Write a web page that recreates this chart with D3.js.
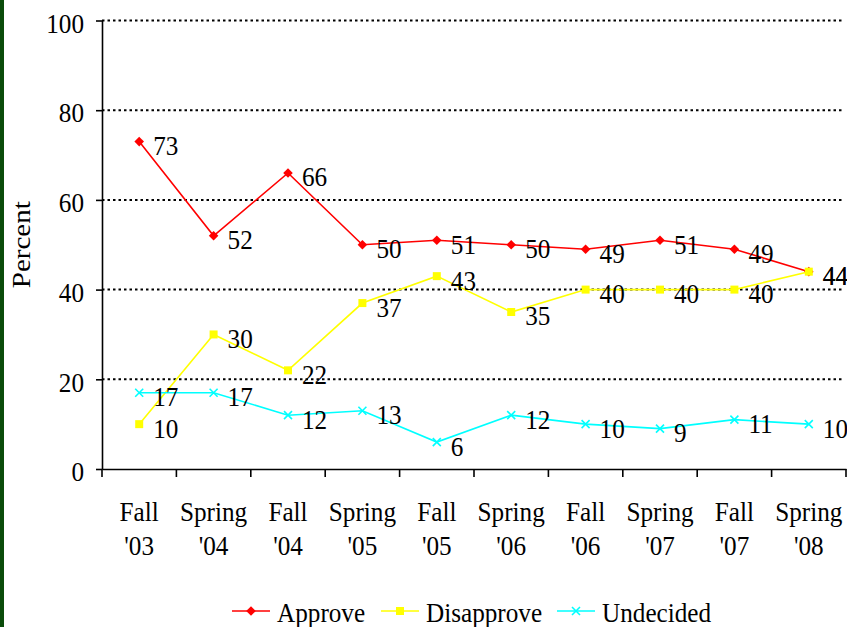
<!DOCTYPE html>
<html>
<head>
<meta charset="utf-8">
<script src="https://cdn.jsdelivr.net/npm/d3@7"></script>
<style>
  html, body { margin: 0; padding: 0; background: #fff; }
  svg { display: block; }
</style>
</head>
<body>
<div id="chart"></div>
<script>
// Survey waves
const categories = ["Fall '03", "Spring '04", "Fall '04", "Spring '05", "Fall '05",
                    "Spring '06", "Fall '06", "Spring '07", "Fall '07", "Spring '08"];
const approve    = [73, 52, 66, 50, 51, 50, 49, 51, 49, 44];
const disapprove = [10, 30, 22, 37, 43, 35, 40, 40, 40, 44];
const undecided  = [17, 17, 12, 13, 6, 12, 10, 9, 11, 10];
const yTicks = [0, 20, 40, 60, 80, 100];

const W = 847, H = 627;
const FONT = "'Liberation Serif', 'Times New Roman', serif";
const SX = 0.9; // the picture's text is a bit narrow

// custom "x" marker drawn as a stroked cross
const symbolX = {
  draw(ctx, size) {
    const r = Math.sqrt(size) / 2;
    ctx.moveTo(-r, -r); ctx.lineTo(r, r);
    ctx.moveTo(r, -r); ctx.lineTo(-r, r);
  }
};

const series = [
  { name: 'Approve',    values: approve,    color: '#ff0000', symbol: d3.symbolSquare, size: 46, rotate: 45, fill: true },
  { name: 'Disapprove', values: disapprove, color: '#ffff00', symbol: d3.symbolSquare, size: 64, rotate: 0,  fill: true },
  { name: 'Undecided',  values: undecided,  color: '#00ffff', symbol: symbolX,         size: 64, rotate: 0,  fill: false },
];

const svg = d3.select('#chart').append('svg')
  .attr('width', W).attr('height', H);

svg.append('rect').attr('width', W).attr('height', H).attr('fill', '#fff');
// dark green strip on the left edge
svg.append('rect').attr('x', 0).attr('y', 0).attr('width', 4).attr('height', H).attr('fill', '#0a4c0a');

const x = d3.scaleBand().domain(categories).range([102, 846]).padding(0);
const y = d3.scaleLinear().domain([0, 100]).range([469, 20.5]);

function label(g, tx, ty, str, size = 28) {
  return g.append('text')
    .attr('transform', `translate(${tx},${ty}) scale(${SX},1)`)
    .attr('font-family', FONT)
    .attr('font-size', size + 'px')
    .attr('fill', '#000')
    .text(str);
}

// Gridlines
svg.append('g')
  .selectAll('line')
  .data(yTicks.filter(d => d > 0))
  .join('line')
  .attr('x1', 102).attr('x2', 844)
  .attr('y1', d => y(d)).attr('y2', d => y(d))
  .attr('stroke', '#000')
  .attr('stroke-width', 2)
  .attr('stroke-dasharray', '2.5,3');

// Y axis
const yAxis = svg.append('g')
  .attr('transform', 'translate(102,0)')
  .call(d3.axisLeft(y).tickValues(yTicks).tickSize(6).tickSizeOuter(0));
yAxis.select('.domain').attr('stroke', '#000').attr('stroke-width', 1.6);
yAxis.selectAll('.tick line').attr('stroke', '#000').attr('stroke-width', 1.6);
yAxis.selectAll('.tick text')
  .attr('font-family', FONT)
  .attr('font-size', '28px')
  .attr('fill', '#000')
  .attr('x', -18 / SX)
  .attr('dy', '0.42em')
  .attr('transform', `scale(${SX},1)`);

// X axis: labels under band centres, ticks on band edges
const xAxis = svg.append('g')
  .attr('transform', 'translate(0,469)')
  .call(d3.axisBottom(x).tickSize(0).tickSizeOuter(0));
xAxis.select('.domain').attr('stroke', '#000').attr('stroke-width', 1.6);
xAxis.selectAll('.tick text').each(function (d) {
  const t = d3.select(this);
  const parts = d.split(' ');
  t.text(null)
    .attr('y', 0).attr('dy', null)
    .attr('font-family', FONT)
    .attr('font-size', '28px')
    .attr('fill', '#000')
    .attr('transform', `scale(${SX},1)`);
  parts.forEach((p, i) => {
    t.append('tspan').attr('x', 0).attr('y', 52 + i * 34).text(p);
  });
});
const edges = categories.map(c => x(c)).concat([x.range()[1]]);
xAxis.selectAll('.edge')
  .data(edges)
  .join('line')
  .attr('class', 'edge')
  .attr('x1', d => d).attr('x2', d => d)
  .attr('y1', 0).attr('y2', 8)
  .attr('stroke', '#000').attr('stroke-width', 1.6);

// Y axis title
svg.append('text')
  .attr('transform', `translate(30,${(y(0) + y(100)) / 2}) rotate(-90) scale(1,${SX})`)
  .attr('text-anchor', 'middle')
  .attr('font-family', FONT)
  .attr('font-size', '29px')
  .attr('fill', '#000')
  .text('Percent');

const cx = (d, i) => x(categories[i]) + x.bandwidth() / 2;
const line = d3.line().x(cx).y(d => y(d));

// Lines and markers
series.forEach(s => {
  const g = svg.append('g');
  g.append('path')
    .attr('d', line(s.values))
    .attr('fill', 'none')
    .attr('stroke', s.color)
    .attr('stroke-width', 1.6);
  g.selectAll('path.mk')
    .data(s.values)
    .join('path')
    .attr('class', 'mk')
    .attr('d', d3.symbol(s.symbol, s.size))
    .attr('transform', (d, i) => `translate(${cx(d, i)},${y(d)}) rotate(${s.rotate})`)
    .attr('fill', s.fill ? s.color : 'none')
    .attr('stroke', s.color)
    .attr('stroke-width', s.fill ? 0 : 1.6);
});

// Data labels, right of each point
const labels = svg.append('g');
series.forEach(s => {
  s.values.forEach((v, i) => {
    label(labels, cx(v, i) + 14, y(v) + 4, v).attr('dominant-baseline', 'central');
  });
});

// Legend
const legend = svg.append('g').attr('transform', 'translate(0,611)');
const legendX = [232, 381, 557];
series.forEach((s, i) => {
  const lx = legendX[i];
  legend.append('line')
    .attr('x1', lx).attr('x2', lx + 38)
    .attr('stroke', s.color).attr('stroke-width', 1.6);
  legend.append('path')
    .attr('d', d3.symbol(s.symbol, s.size))
    .attr('transform', `translate(${lx + 19},0) rotate(${s.rotate})`)
    .attr('fill', s.fill ? s.color : 'none')
    .attr('stroke', s.color)
    .attr('stroke-width', s.fill ? 0 : 1.6);
  label(legend, lx + 45, 11, s.name);
});
</script>
</body>
</html>
